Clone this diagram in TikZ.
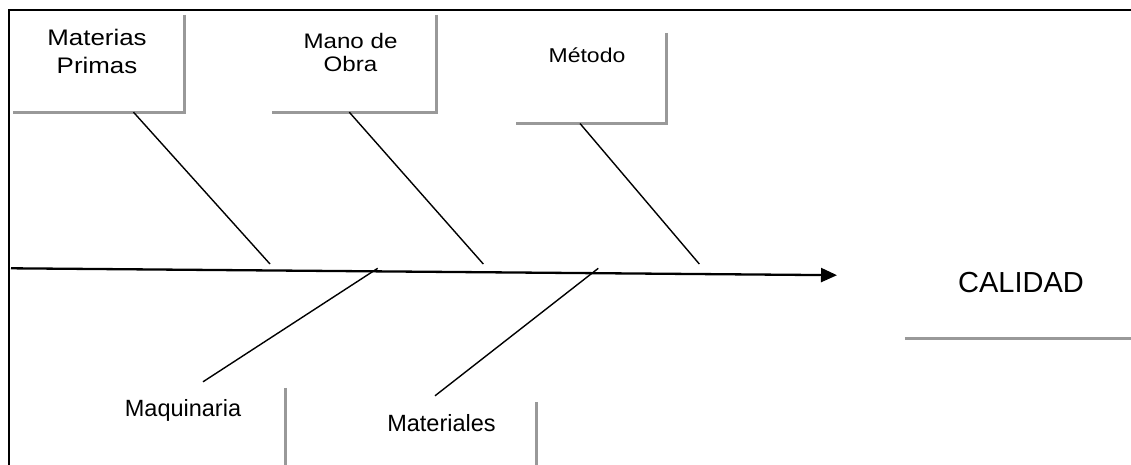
\documentclass[tikz,border=0pt]{standalone}
\usepackage{fontspec}
\setmainfont{Liberation Sans}
\newfontfamily\widefont[FakeStretch=1.15]{Liberation Sans}
\usetikzlibrary{arrows.meta}
\definecolor{EdgeGray}{RGB}{153, 153, 153}
\definecolor{InkBlack}{RGB}{0, 0, 0}

\begin{document}
\begin{tikzpicture}[x=1pt, y=-1pt,
    causebox/.style={inner sep=0pt},
    boxedge/.style={draw=EdgeGray, line width=3pt},
    bone/.style={draw=InkBlack, line width=1.4pt},
    spine/.style={draw=InkBlack, line width=2.3pt, -{Triangle[length=16pt, width=14pt]}},
    toplabel/.style={inner sep=0pt, align=center, text=InkBlack}]
        \useasboundingbox (0,0) rectangle (1131,465);
        % page frame
        \draw[line width=2.2pt, InkBlack] (9,465) -- (9,10) -- (1131,10);

        % cause boxes
        \node[causebox, minimum width=171pt, minimum height=97pt] (mpbox) at (98.5,63.5) {};
        \node[causebox, minimum width=164pt, minimum height=97pt] (mobox) at (354,63.5) {};
        \node[causebox, minimum width=150pt, minimum height=90.3pt] (metbox) at (591,78.15) {};
        \node[causebox, minimum width=204pt, minimum height=77pt] (maqbox) at (183,426.5) {};
        \node[causebox, minimum width=190.4pt, minimum height=62.7pt] (matbox) at (441.5,433.65) {};
        \node[causebox, minimum width=226pt, minimum height=102.6pt] (calbox) at (1018,287) {};
        \draw[boxedge] (mpbox.north east) -- (mpbox.south east) -- (mpbox.south west);
        \draw[boxedge] (mobox.north east) -- (mobox.south east) -- (mobox.south west);
        \draw[boxedge] (metbox.north east) -- (metbox.south east) -- (metbox.south west);
        \draw[boxedge] (maqbox.north east) -- (maqbox.south east);
        \draw[boxedge] (matbox.north east) -- (matbox.south east);
        \draw[boxedge] (calbox.south west) -- (calbox.south east);

        % labels
        \node[toplabel, anchor=north, font={\widefont\fontsize{22.5}{28}\selectfont}] (mp) at (97,28.6) {Materias\\Primas};
        \node[toplabel, anchor=north, font={\widefont\fontsize{21}{23.5}\selectfont}] (mo) at (350.5,32.7) {Mano de\\Obra};
        \node[toplabel, anchor=base, font={\widefont\fontsize{20}{24}\selectfont}] (met) at (587,62.5) {Método};
        \node[toplabel, anchor=base, font={\fontsize{23.5}{28}\selectfont}] (maq) at (183,416.7) {Maquinaria};
        \node[toplabel, anchor=base, font={\fontsize{23.5}{28}\selectfont}] (mat) at (441.5,431.7) {Materiales};
        \node[toplabel, anchor=base, font={\fontsize{29}{34}\selectfont}] (cal) at (1021,292.3) {CALIDAD};

        % spine and bones
        \coordinate (tail) at (11,268.3);
        \coordinate (head) at (837,275.2);
        \coordinate (j1) at (270,264);
        \coordinate (j2) at (483.3,264);
        \coordinate (j3) at (699.3,264);
        \coordinate (k1) at (377.7,268.3);
        \coordinate (k2) at (598.3,268.3);
        \draw[spine] (tail) -- (head);
        \draw[bone] ([xshift=35pt]mpbox.south) -- (j1);
        \draw[bone] ([xshift=-4.7pt]mobox.south) -- (j2);
        \draw[bone] ([xshift=-11pt]metbox.south) -- (j3);
        \draw[bone] (k1) -- ([xshift=20pt, yshift=6pt]maqbox.north);
        \draw[bone] (k2) -- ([xshift=-6.5pt, yshift=6.3pt]matbox.north);
    \end{tikzpicture}
\end{document}
